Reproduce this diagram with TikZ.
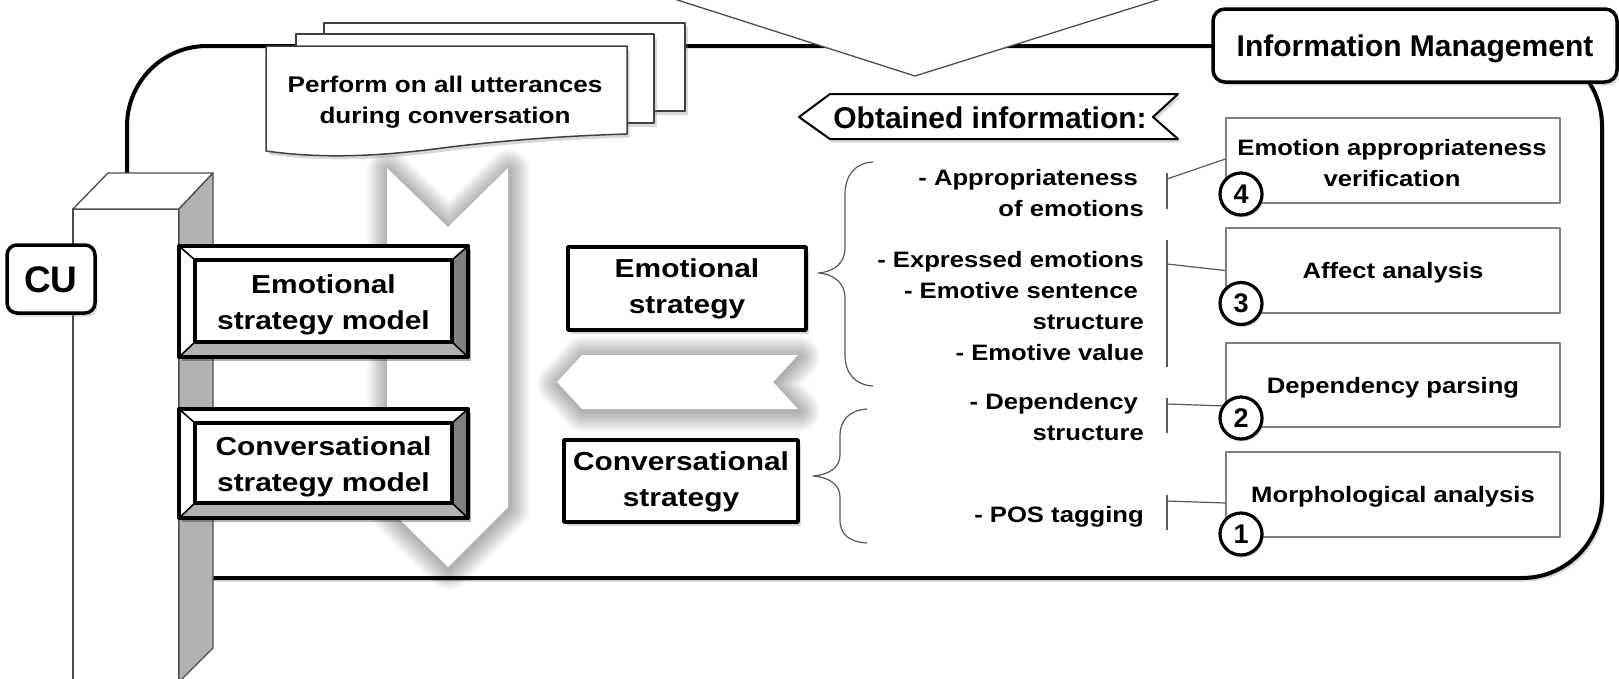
\documentclass[tikz,border=0pt]{standalone}
\usepackage{fontspec}
\setmainfont{Liberation Sans}
\newfontfamily\wf{Liberation Sans}[FakeStretch=1.15]
\usetikzlibrary{shadows,calc}
\newcommand\fsz[2]{\fontsize{#1}{#2}\selectfont}
\newcommand\glowfill[1]{%
  \foreach \gw in {3,6,...,42}{%
    \draw[line width=\gw pt, black, opacity=0.022, shift={(1,2)}] #1;}%
  \fill[white] #1;}
\newcommand\bevelframe[4]{%
  \fill[black, opacity=0.3] (#1+3,#2+4) rectangle (#3+3,#4+4);
  \fill[white] (#1,#2) rectangle (#3,#4);
  \fill[black!30] (#1,#4) -- (#1+16,#4-15) -- (#3-16,#4-15) -- (#3,#4) -- cycle;
  \fill[black!50] (#3,#2) -- (#3-16,#2+14) -- (#3-16,#4-15) -- (#3,#4) -- cycle;
  \draw[line width=1.6pt] (#1,#2) -- (#1+16,#2+14) (#3,#2) -- (#3-16,#2+14) (#1,#4) -- (#1+16,#4-15) (#3,#4) -- (#3-16,#4-15);
  \draw[line width=3.5pt] (#1+16,#2+14) rectangle (#3-16,#4-15);
  \draw[line width=4pt] (#1,#2) rectangle (#3,#4);}
\begin{document}
\begin{tikzpicture}[x=1pt,y=-1pt,line join=round,
  bigt/.style={font=\wf\bfseries\fsz{26}{36}, align=center, inner sep=0pt},
  smallt/.style={font=\wf\bfseries\fsz{22.3}{31}, inner sep=0pt},
  plaint/.style={font=\bfseries\fsz{30}{36}, inner sep=0pt},
  conn/.style={draw=black!65, line width=1.2pt},
  docline/.style={draw=black!75, line width=1.5pt, fill=white},
  colline/.style={draw=black!70, line width=1.3pt},
  thinbox/.style={draw=black!50, line width=1.3pt, fill=white, minimum width=334pt, minimum height=85pt, inner sep=0pt},
  numc/.style={circle, draw, line width=3.2pt, fill=white, minimum size=42pt, inner sep=0pt, font=\bfseries\fsz{27}{30}, drop shadow={opacity=0.35, shadow xshift=1.5pt, shadow yshift=-2.5pt}},
  softshadow/.style={drop shadow={opacity=0.3, shadow xshift=2.5pt, shadow yshift=-3.5pt}},
  stratbox/.style={draw, line width=3.5pt, fill=white, softshadow, bigt},
]
\useasboundingbox (0,0) rectangle (1619,678);

% big rounded frame
\draw[line width=4pt, rounded corners=80pt, fill=white, softshadow] (127,46) rectangle (1602,578);

% top chevron
\draw[draw=black!70, line width=1.3pt, fill=white] (668,-3) -- (915,76) -- (1167,-3);

% block arrows
\glowfill{(387,168) -- (448,227) -- (508,168) -- (508,507) -- (448,567) -- (387,507) -- cycle}
\glowfill{(557,382) -- (582,355) -- (798,355) -- (773,382) -- (798,409) -- (582,409) -- cycle}

% stacked documents
\draw[docline, softshadow] (324,23) rectangle (685,111);
\draw[docline, softshadow] (296,34) rectangle (654,123);
\draw[docline, softshadow] (266,46) -- (627,46) -- (627,134) .. controls (560,136) and (500,141) .. (450,147) .. controls (390,155) and (330,160) .. (266,151) -- cycle;
\node[font=\wf\bfseries\fsz{22.7}{31}, align=center, inner sep=0pt] (perf) at (445,101.3) {\strut Perform on all utterances\\\strut during conversation};

% Information Management
\node[draw, line width=3.5pt, rounded corners=12pt, fill=white, softshadow, minimum width=404pt, minimum height=73pt, plaint, text height=21.5pt, text depth=0pt] (im) at (1415,45.5) {Information Management};

% Obtained information banner
\draw[line width=2pt, fill=white, softshadow] (799,117) -- (830,94) -- (1178,94) -- (1153,117) -- (1178,139) -- (830,139) -- cycle;
\node[plaint, anchor=base] (obt) at (990,128) {Obtained information:};

% column
\draw[colline, fill=white] (73,700) -- (73,209) -- (179,209) -- (179,700);
\draw[colline, fill=white] (73,209) -- (108,173) -- (213,173) -- (179,209) -- cycle;
\draw[colline, fill=black!30] (179,209) -- (213,173) -- (213,648) -- (179,682) -- cycle;

% CU
\node[draw, line width=3.5pt, rounded corners=10pt, fill=white, softshadow, minimum width=88pt, minimum height=68pt, font=\bfseries\fsz{37}{40}, inner sep=0pt, text height=26.5pt, text depth=0pt] (cu) at (51,279) {CU};

% model boxes
\bevelframe{179}{246}{468}{357}
\node[bigt] (emodel) at (323.5,303.8) {\strut Emotional\\\strut strategy model};
\bevelframe{179}{409}{468}{518}
\node[bigt] (cmodel) at (323.5,465.8) {\strut Conversational\\\strut strategy model};

% strategy boxes
\node[stratbox, minimum width=238pt, minimum height=83pt] (es) at (687,288.5) {\strut Emotional\\\strut strategy};
\node[stratbox, minimum width=234pt, minimum height=82pt] (cs) at (681,481) {\strut Conversational\\\strut strategy};

% braces
\draw[conn] (873,162) .. controls (855,163) and (845,175) .. (845,195) -- (845,248) .. controls (845,263) and (834,272) .. (818,273) .. controls (834,274) and (845,283) .. (845,298) -- (845,355) .. controls (845,373) and (855,385) .. (873,386);
\draw[conn] (867,409) .. controls (850,410) and (840,420) .. (840,435) -- (840,455) .. controls (840,468) and (828,475) .. (813,476) .. controls (828,477) and (840,484) .. (840,497) -- (840,520) .. controls (840,535) and (850,542) .. (867,543);

% obtained-information labels
\node[smallt, align=right, anchor=east] (lA) at (1144,194.3) {\strut - Appropriateness\kern6pt\\\strut of emotions};
\node[smallt, align=right, anchor=east] (lB) at (1144,307.3) {\strut - Expressed emotions\\\strut - Emotive sentence\kern6pt\\\strut structure\\\strut - Emotive value};
\node[smallt, align=right, anchor=east] (lC) at (1144,418.3) {\strut - Dependency\kern6pt\\\strut structure};
\node[smallt, anchor=base east] (lD) at (1144,522) {- POS tagging};

% analysis boxes
\node[thinbox] (b4) at (1393,160.5) {};
\node[smallt, align=center] (t4) at (1392,164.3) {\strut Emotion appropriateness\\\strut verification};
\node[thinbox, smallt, text height=16pt, text depth=0pt] (b3) at (1393,270.5) {Affect analysis};
\node[thinbox, smallt, text height=16pt, text depth=0pt, minimum height=84pt] (b2) at (1393,385) {Dependency parsing};
\node[thinbox, smallt, text height=16pt, text depth=0pt] (b1) at (1393,494.5) {Morphological analysis};

% connectors
\coordinate (kA) at (1167,179);
\coordinate (kB) at (1167,264);
\coordinate (kC) at (1167,404);
\coordinate (kD) at (1167,501);
\draw[conn] (1167,173) -- (1167,209);
\draw[conn] (1167,240) -- (1167,367);
\draw[conn] (1167,398) -- (1167,433);
\draw[conn] (1167,495) -- (1167,530);
\draw[conn] (kA) -- ($(b4.west)+(0,-1.5)$);
\draw[conn] (kB) -- (b3.west);
\draw[conn] (kC) -- ($(b2.west)+(0,21)$);
\draw[conn] (kD) -- ($(b1.west)+(0,8.5)$);

% step numbers
\node[numc] (c4) at (1241,194) {4};
\node[numc] (c3) at (1241,303.5) {3};
\node[numc] (c2) at (1241,418) {2};
\node[numc] (c1) at (1241,534) {1};
\end{tikzpicture}
\end{document}
